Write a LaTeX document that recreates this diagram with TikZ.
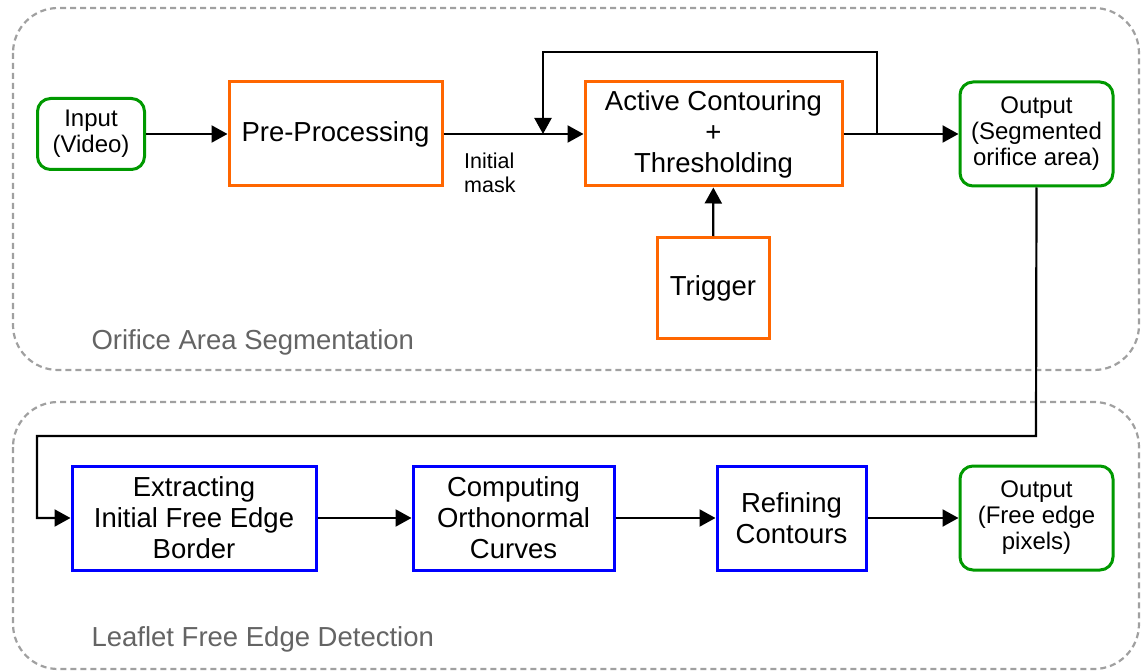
\documentclass[tikz,border=0pt]{standalone}
\usepackage{fontspec}
\setmainfont{Liberation Sans}
\usetikzlibrary{arrows.meta}
\definecolor{orangeb}{RGB}{255,102,0}
\definecolor{blueb}{RGB}{0,0,255}
\definecolor{greenb}{RGB}{0,153,0}
\definecolor{grayd}{RGB}{160,160,160}
\definecolor{graytxt}{RGB}{100,100,100}
\begin{document}
\begin{tikzpicture}[x=1pt,y=-1pt,
  region/.style={draw=grayd,line width=2.2pt,dash pattern=on 6pt off 4pt,rounded corners=45pt},
  obox/.style={draw=orangeb,line width=3pt,inner sep=0pt,align=center,font=\fontsize{27.5}{31}\selectfont},
  bbox/.style={draw=blueb,line width=3pt,inner sep=0pt,align=center,font=\fontsize{27.5}{31}\selectfont},
  gbox/.style={draw=greenb,line width=3pt,rounded corners=13pt,inner sep=0pt,align=center,font=\fontsize{24}{26}\selectfont},
  conn/.style={line width=2.2pt,-{Triangle[length=16pt,width=17pt]}},
  seclabel/.style={text=graytxt,anchor=west,font=\fontsize{27.5}{30}\selectfont}]
\useasboundingbox (0,0) rectangle (1141,671);
\fill[white] (0,0) rectangle (1141,671);
% regions
\draw[region] (13,8) rectangle (1139,370);
\draw[region] (13,402) rectangle (1139,669);
\node[seclabel] (l1) at (88,342) {Orifice Area Segmentation};
\node[seclabel] (l2) at (88,639) {Leaflet Free Edge Detection};
% nodes
\node[gbox,minimum width=107pt,minimum height=71pt] (in) at (91,134) {Input\\(Video)};
\node[obox,minimum width=213pt,minimum height=104pt] (pre) at (335.5,134) {Pre-Processing};
\node[obox,minimum width=257pt,minimum height=104pt] (act) at (713.5,134) {Active Contouring\\+\\Thresholding};
\node[obox,minimum width=112pt,minimum height=101pt] (trig) at (713,288) {Trigger};
\node[gbox,minimum width=153pt,minimum height=104pt] (out1) at (1036.5,134) {Output\\(Segmented\\orifice area)};
\node[bbox,minimum width=244pt,minimum height=104pt] (ext) at (194,518) {Extracting\\Initial Free Edge\\Border};
\node[bbox,minimum width=201pt,minimum height=104pt] (comp) at (513.5,518) {Computing\\Orthonormal\\Curves};
\node[bbox,minimum width=149pt,minimum height=104pt] (ref) at (791.5,518) {Refining\\Contours};
\node[gbox,minimum width=153pt,minimum height=104pt] (out2) at (1036.5,518) {Output\\(Free edge\\pixels)};
\node[anchor=north west,align=left,inner sep=0pt,font=\fontsize{21.5}{24}\selectfont] (mask) at (464,153) {Initial\\mask};
% coordinates
\coordinate (fb0) at (877,134);
\coordinate (fb1) at (877,52);
\coordinate (fb2) at (543,52);
\coordinate (fb3) at (543,134);
\coordinate (d1) at (1036,436);
\coordinate (d2) at (37,436);
\coordinate (d3) at (37,518);
% connectors
\draw[conn] (in) -- (pre);
\draw[conn] (pre) -- (act);
\draw[conn] (act) -- (out1);
\draw[conn] (fb0) -- (fb1) -- (fb2) -- (fb3);
\draw[conn] (trig) -- (act);
\draw[conn] (out1.south) -- (d1) -- (d2) -- (d3) -- (ext.west);
\draw[conn] (ext) -- (comp);
\draw[conn] (comp) -- (ref);
\draw[conn] (ref) -- (out2);
\end{tikzpicture}
\end{document}
